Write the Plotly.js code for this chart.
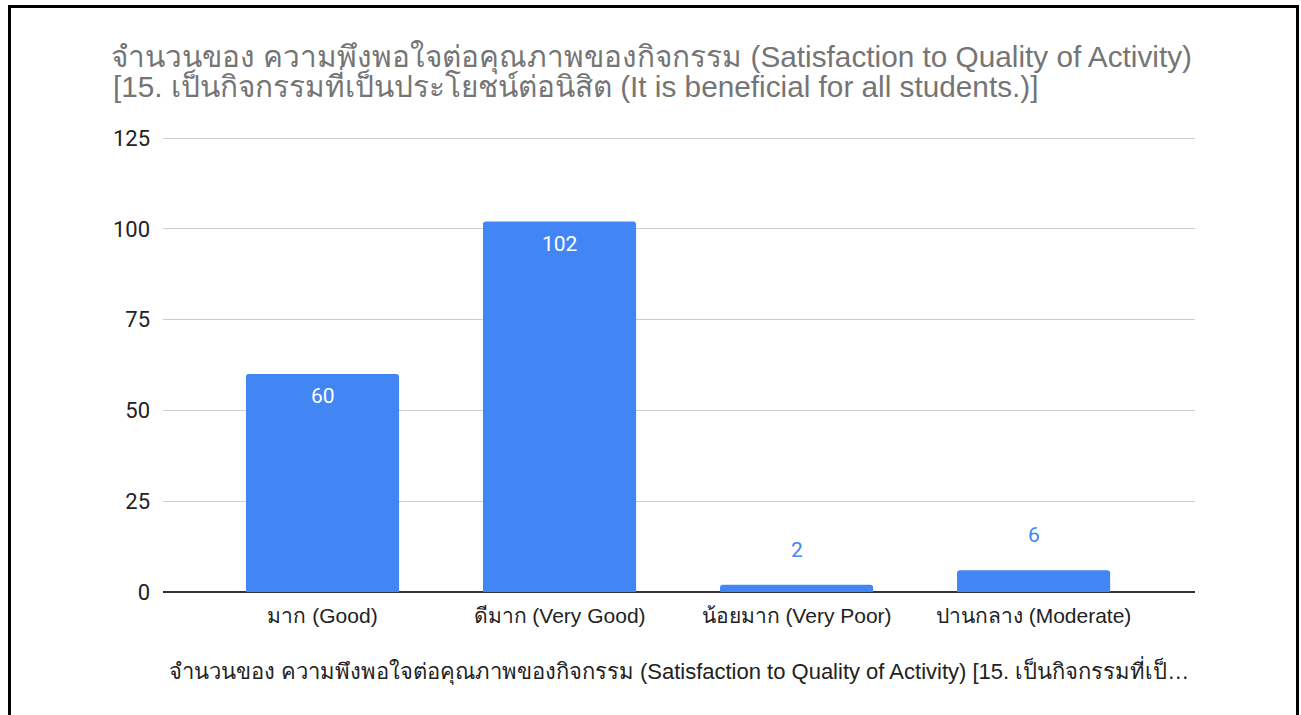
<!DOCTYPE html>
<html>
<head>
<meta charset="utf-8">
<script src="https://cdn.plot.ly/plotly-3.0.1.min.js"></script>
<style>
  html, body { margin: 0; padding: 0; background: #ffffff; }
  #chart { width: 1301px; height: 715px; }
  #frame { position: absolute; left: 8px; top: 5px; width: 1285px; height: 720px;
           border: 3px solid #000; border-bottom: none; pointer-events: none; }
</style>
</head>
<body>
<div id="chart"></div>
<div id="frame"></div>
<script>
const categories = ["มาก (Good)", "ดีมาก (Very Good)", "น้อยมาก (Very Poor)", "ปานกลาง (Moderate)"];
const counts = [60, 102, 2, 6];
const yTicks = [0, 25, 50, 75, 100, 125];
const titleLine1 = "จำนวนของ ความพึงพอใจต่อคุณภาพของกิจกรรม (Satisfaction to Quality of Activity)";
const titleLine2 = "[15. เป็นกิจกรรมที่เป็นประโยชน์ต่อนิสิต (It is beneficial for all students.)]";
const xTitle = "จำนวนของ ความพึงพอใจต่อคุณภาพของกิจกรรม (Satisfaction to Quality of Activity) [15. เป็นกิจกรรมที่เป็…";

const barColor = "#4285F4";
const titleColor = "#757575";
const textColor = "#222222";
const sansArial = "Arial, 'Liberation Sans', sans-serif";
const sansRoboto = "Roboto, Arial, sans-serif";
const insideThreshold = 20;

const W = 1301, H = 715;
const M = { l: 163, r: 106, t: 136, b: 123 };
const plotW = W - M.l - M.r, plotH = H - M.t - M.b;

const annotations = categories.map((c, i) => {
  const inside = counts[i] >= insideThreshold;
  return {
    x: i, y: counts[i], xref: "x", yref: "y",
    text: String(counts[i]), showarrow: false,
    yanchor: inside ? "top" : "bottom",
    yshift: inside ? -8 : 21,
    font: { family: sansRoboto, size: 21, color: inside ? "#ffffff" : barColor }
  };
});

// second line of the chart title
annotations.push({
  text: titleLine2, showarrow: false,
  xref: "paper", yref: "paper",
  x: (112 - M.l) / plotW, xanchor: "left",
  y: (H - M.b - 84) / plotH, yanchor: "middle",
  borderpad: 0,
  font: { family: sansArial, size: 29.75, color: titleColor }
});

const trace = {
  type: "bar",
  x: categories.map((c, i) => i),
  y: counts,
  width: 0.646,
  marker: { color: barColor, cornerradius: 3, line: { width: 0 } },
  hoverinfo: "x+y"
};

const layout = {
  width: W, height: H,
  margin: M,
  paper_bgcolor: "#ffffff", plot_bgcolor: "#ffffff",
  showlegend: false,
  title: {
    text: titleLine1,
    x: 111 / W, xanchor: "left", xref: "container",
    y: 1 - 57 / H, yanchor: "middle", yref: "container",
    font: { family: sansArial, size: 29.75, color: titleColor }
  },
  xaxis: {
    range: [-0.673, 3.681],
    tickmode: "array",
    tickvals: categories.map((c, i) => i),
    ticktext: categories,
    showgrid: false, zeroline: false, showline: false, ticks: "",
    ticklabelstandoff: 9,
    tickfont: { family: sansArial, size: 21, color: textColor },
    title: { text: xTitle, standoff: 37,
             font: { family: sansArial, size: 22, color: textColor } },
    fixedrange: true
  },
  yaxis: {
    range: [0, 125.55],
    tickmode: "array", tickvals: yTicks, ticktext: yTicks.map(String),
    showgrid: true, gridcolor: "#cccccc", gridwidth: 1,
    zeroline: true, zerolinecolor: "#333333", zerolinewidth: 2,
    showline: false, ticks: "", ticklabelstandoff: 12,
    tickfont: { family: sansRoboto, size: 22, color: textColor },
    fixedrange: true
  },
  annotations: annotations
};

Plotly.newPlot("chart", [trace], layout, { displayModeBar: false, staticPlot: true });
</script>
</body>
</html>
